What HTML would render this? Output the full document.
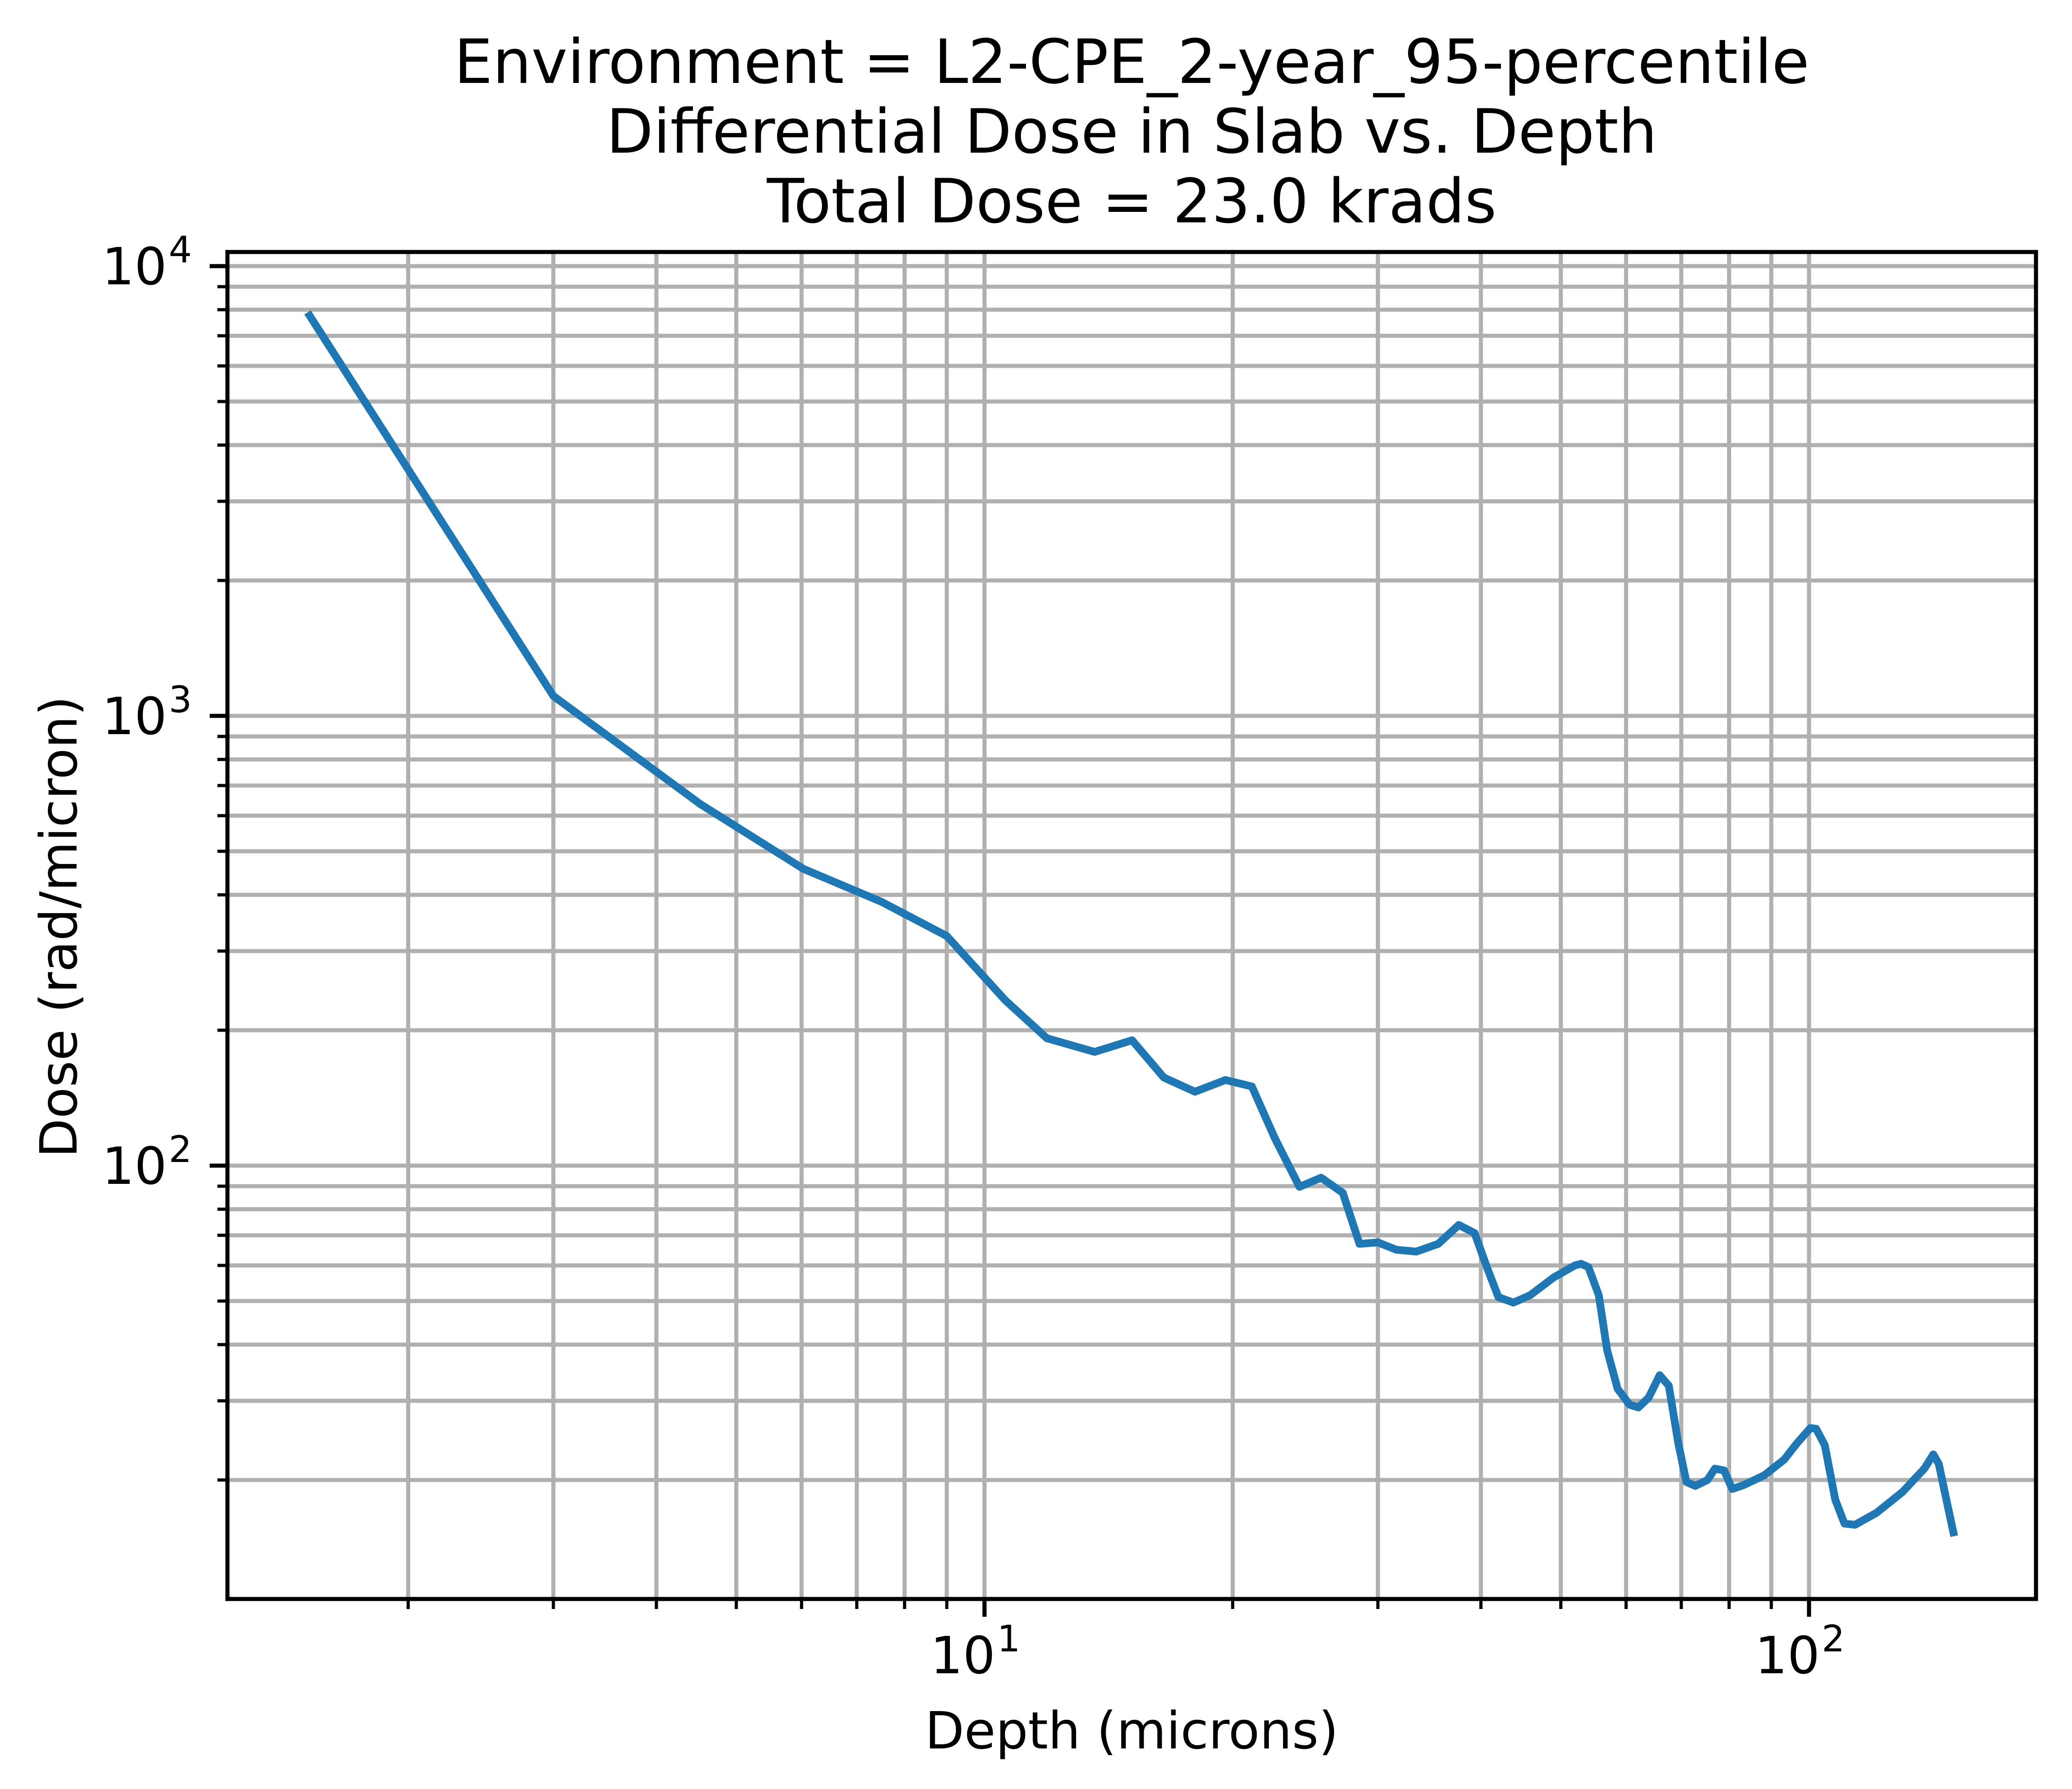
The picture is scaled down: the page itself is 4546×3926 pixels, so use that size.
<!DOCTYPE html>
<html><head><meta charset="utf-8"><style>
html,body{margin:0;padding:0;background:#fff;}
svg{display:block;font-family:"DejaVu Sans","Liberation Sans",sans-serif;}
</style></head><body>
<svg id="chart" width="4546" height="3926" viewBox="0 0 4546 3926" xmlns="http://www.w3.org/2000/svg">
<rect x="0" y="0" width="4546" height="3926" fill="#fff"/>
<g id="title" font-size="134" text-anchor="middle" fill="#000">
<text x="2483" y="182">Environment = L2-CPE_2-year_95-percentile</text>
<text x="2483" y="335">Differential Dose in Slab vs. Depth</text>
<text x="2483" y="488">Total Dose = 23.0 krads</text>
</g>
<g id="grid"></g>
<g id="ticks"></g>
<g id="series"></g>
<rect x="499" y="553" width="3968" height="2956" fill="none" stroke="#000" stroke-width="9"/>
<text x="2483" y="3837" font-size="112" text-anchor="middle">Depth (microns)</text>
<text x="0" y="0" font-size="112" text-anchor="middle" transform="translate(168,2034) rotate(-90)">Dose (rad/micron)</text>
</svg>
<script>
const depth = [1.51,3.0,4.52,6.03,7.5,9.0,10.6,11.9,13.6,15.1,16.5,18.0,19.6,21.1,22.5,24.1,25.6,27.2,28.5,30,31.6,33.4,35.5,37.6,39.3,40.6,42,43.8,45.9,49,52,52.9,54,55.6,56.9,58.6,60.6,62.1,63.9,65.9,67.6,69.4,71,72.8,75.3,76.9,78.9,80.7,83.4,88.3,93.3,96.8,100.4,102,104.5,107.6,110.4,113.7,120.7,129.8,138,141.5,143.7,146,150];
const dose = [7890,1107,637,457,386,324,233,192,179,190,157,146,155,150,115,89.7,94,87,67,67.5,65,64.4,67,73.8,70.8,60,51,49.6,51.5,56.4,60,60.5,59.5,51.5,38.9,31.9,29.4,29.0,30.5,34.2,32.4,24.2,19.8,19.4,20.0,21.2,21,19.1,19.5,20.5,22.2,24.2,26.1,26,23.9,18.1,16.0,15.9,16.9,18.8,21.2,22.8,21.7,18.9,15.0];
const xMajorTicks = [10,100];
const xMajorLabels = ["1","2"];
const yMajorTicks = [100,1000,10000];
const yMajorLabels = ["2","3","4"];

const L=499,R=4467,T=553,B=3509;
const X10=2160, XDEC=1809, Y10000=584, YDEC=987;
function xs(v){return X10+(Math.log10(v)-1)*XDEC;}
function ys(v){return Y10000+(4-Math.log10(v))*YDEC;}
const NS="http://www.w3.org/2000/svg";
function mk(tag,attrs,parent){const e=document.createElementNS(NS,tag);for(const k in attrs)e.setAttribute(k,attrs[k]);parent.appendChild(e);return e;}
const grid=document.getElementById('grid'), ticks=document.getElementById('ticks'), series=document.getElementById('series');

// x grid/ticks
for(let d=1;d<=100;d*=10){
  for(let m=1;m<10;m++){
    const v=d*m, x=xs(v);
    if(x<L||x>R) continue;
    const major=(m===1);
    const g=mk('line',{x1:x,y1:T,x2:x,y2:B,stroke:'#b0b0b0','stroke-width':9},grid);
    
    
    const t=mk('line',{x1:x,y1:B,x2:x,y2:B+(major?39:22),stroke:'#000','stroke-width':major?9:7},ticks);
    
    
  }
}
xMajorTicks.forEach((v,i)=>{
  const x=xs(v);
  const tx=mk('text',{x:x-20,y:3672,'font-size':112,'text-anchor':'middle'},ticks);
  
  
  tx.textContent='10';
  const sp=mk('tspan',{dx:4,dy:-48,'font-size':80},tx);
  sp.textContent=xMajorLabels[i];
});
// y grid/ticks
for(let d=10;d<=10000;d*=10){
  for(let m=1;m<10;m++){
    const v=d*m, y=ys(v);
    if(y<T||y>B) continue;
    const major=(m===1);
    const g=mk('line',{x1:L,y1:y,x2:R,y2:y,stroke:'#b0b0b0','stroke-width':9},grid);
    
    
    const t=mk('line',{x1:L-(major?39:22),y1:y,x2:L,y2:y,stroke:'#000','stroke-width':major?9:7},ticks);
    
    
  }
}
yMajorTicks.forEach((v,i)=>{
  const y=ys(v);
  const tx=mk('text',{x:421,y:y+40,'font-size':112,'text-anchor':'end'},ticks);
  
  
  tx.textContent='10';
  const sp=mk('tspan',{dx:4,dy:-48,'font-size':80},tx);
  sp.textContent=yMajorLabels[i];
});
// series
const pts=depth.map((d,i)=>xs(d).toFixed(1)+','+ys(dose[i]).toFixed(1)).join(' ');
const pl=mk('polyline',{points:pts,fill:'none',stroke:'#1f77b4','stroke-width':17,'stroke-linejoin':'round'},series);


</script>
</body></html>
